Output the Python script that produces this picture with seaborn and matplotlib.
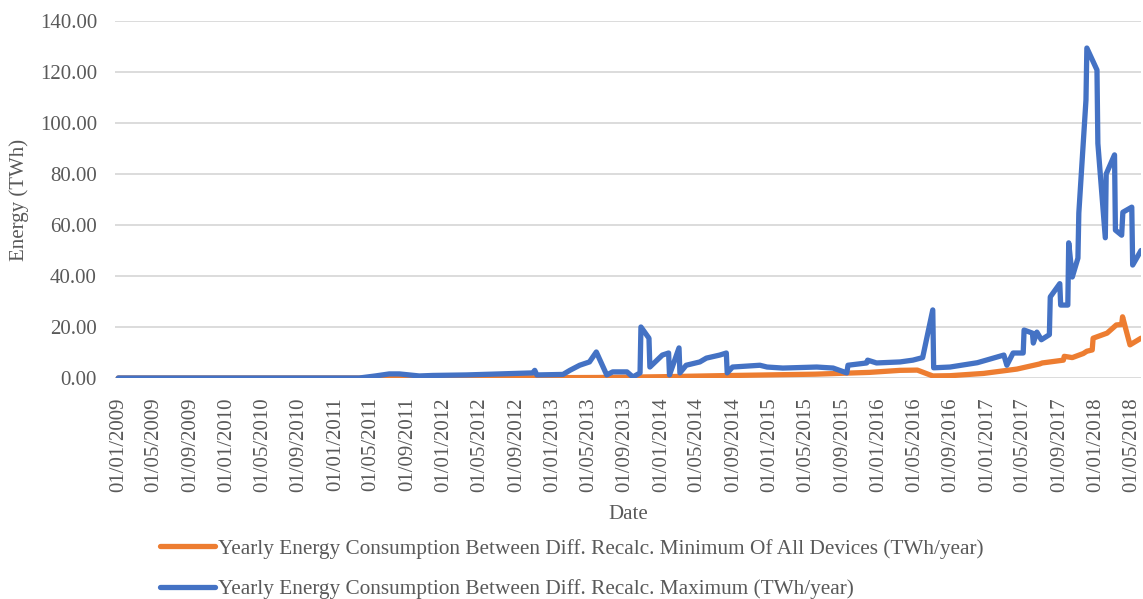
import pandas as pd
import matplotlib
matplotlib.use("Agg")
import matplotlib.pyplot as plt
import matplotlib.dates as mdates
import matplotlib.ticker as mticker
import seaborn as sns

# values (TWh/year)
max_dates = ["2009-01-01", "2011-03-22", "2011-05-15", "2011-07-01", "2011-08-04", "2011-10-10",
             "2011-11-24", "2012-03-16", "2012-07-06", "2012-10-25", "2012-11-01", "2012-11-08",
             "2013-02-04", "2013-02-27", "2013-04-01", "2013-05-04", "2013-05-27", "2013-07-01",
             "2013-07-21", "2013-09-07", "2013-09-27", "2013-10-21", "2013-10-24", "2013-11-20",
             "2013-11-23", "2014-01-04", "2014-01-25", "2014-01-28", "2014-03-01", "2014-03-04",
             "2014-03-25", "2014-05-10", "2014-06-01", "2014-07-16", "2014-08-07", "2014-08-10",
             "2014-08-28", "2014-11-28", "2014-12-22", "2015-02-13", "2015-06-07", "2015-08-01",
             "2015-09-16", "2015-09-20", "2015-11-22", "2015-11-25", "2015-12-25", "2016-03-13",
             "2016-04-25", "2016-05-28", "2016-07-01", "2016-07-04", "2016-08-28", "2016-11-28",
             "2017-02-25", "2017-03-07", "2017-03-28", "2017-05-01", "2017-05-04", "2017-06-01",
             "2017-06-04", "2017-06-16", "2017-07-01", "2017-07-28", "2017-07-31", "2017-09-01",
             "2017-09-04", "2017-09-28", "2017-10-01", "2017-10-13", "2017-11-01", "2017-11-04",
             "2017-11-28", "2017-12-01", "2018-01-04", "2018-01-07", "2018-02-01", "2018-02-04",
             "2018-03-04", "2018-03-07", "2018-03-28", "2018-04-01", "2018-05-01", "2018-05-04",
             "2018-06-01"]
max_values = [0.0, 0.0, 0.8, 1.6, 1.6, 0.8,
              1.0, 1.2, 1.6, 2.0, 3.0, 1.2,
              1.4, 3.0, 5.0, 6.3, 10.2, 1.2,
              2.4, 2.4, 0.4, 2.0, 20.0, 15.6,
              4.3, 9.0, 9.8, 1.2, 11.8, 2.0,
              5.0, 6.3, 7.8, 9.0, 9.8, 2.0,
              4.3, 5.0, 4.3, 3.9, 4.3, 3.9,
              2.0, 5.0, 5.9, 7.0, 5.9, 6.3,
              7.0, 8.0, 26.7, 4.0, 4.3, 6.0,
              9.0, 5.0, 9.8, 9.8, 18.8, 17.6,
              13.7, 18.0, 15.0, 17.0, 31.8, 37.0,
              28.6, 28.6, 53.0, 39.6, 47.0, 64.7,
              109.0, 129.4, 120.8, 92.0, 55.0, 80.0,
              87.5, 58.0, 56.0, 65.0, 67.0, 44.3,
              50.0]

min_dates = ["2009-01-01", "2012-01-01", "2013-06-01", "2014-01-01", "2014-09-01", "2015-06-01",
             "2015-12-01", "2016-03-13", "2016-05-10", "2016-07-01", "2016-08-28", "2016-12-19",
             "2017-04-10", "2017-06-25", "2017-07-04", "2017-09-13", "2017-09-16", "2017-10-13",
             "2017-11-19", "2017-12-01", "2017-12-19", "2017-12-22", "2018-02-07", "2018-03-10",
             "2018-03-28", "2018-03-31", "2018-04-25", "2018-06-01"]
min_values = [0.0, 0.0, 0.2, 0.5, 1.0, 1.5,
              2.2, 3.0, 3.1, 0.8, 0.9, 1.8,
              3.5, 5.5, 5.9, 7.0, 8.5, 8.0,
              9.6, 10.5, 11.0, 15.6, 17.6, 20.8,
              21.0, 24.0, 13.0, 15.6]

min_label = "Yearly Energy Consumption Between Diff. Recalc. Minimum Of All Devices (TWh/year)"
max_label = "Yearly Energy Consumption Between Diff. Recalc. Maximum (TWh/year)"

df_min = pd.DataFrame({"date": pd.to_datetime(min_dates), "energy": min_values})
df_max = pd.DataFrame({"date": pd.to_datetime(max_dates), "energy": max_values})

sns.set_style("white")
plt.rcParams["font.family"] = ["Liberation Serif", "DejaVu Serif"]
text_col = "#595959"

fig = plt.figure(figsize=(11.43, 5.99), dpi=100)
ax = fig.add_axes([115 / 1143, 1 - 378 / 599, (1141 - 115) / 1143, (378 - 21) / 599])

line_kw = dict(linewidth=3.8, solid_joinstyle="round", solid_capstyle="round")
sns.lineplot(data=df_min, x="date", y="energy", color="#ED7D31", label=min_label, ax=ax, **line_kw)
sns.lineplot(data=df_max, x="date", y="energy", color="#4472C4", label=max_label, ax=ax, **line_kw)

ax.set_ylim(0, 140)
ax.set_xlim(pd.Timestamp("2008-12-21"), pd.Timestamp("2018-06-01"))
ax.yaxis.set_major_locator(mticker.MultipleLocator(20))
ax.yaxis.set_major_formatter(mticker.FormatStrFormatter("%.2f"))
ax.xaxis.set_major_locator(mdates.MonthLocator(bymonth=[1, 5, 9]))
ax.xaxis.set_major_formatter(mdates.DateFormatter("%d/%m/%Y"))

ax.grid(axis="y", color="#D9D9D9", linewidth=1.3)
ax.set_axisbelow(True)
for s in ax.spines.values():
    s.set_visible(False)
ax.tick_params(axis="both", length=0, labelsize=15, colors=text_col)
ax.tick_params(axis="x", pad=14, labelrotation=90)
ax.tick_params(axis="y", pad=13)

ax.set_xlabel("Date", fontsize=15, color=text_col, labelpad=9)
ax.set_ylabel("Energy (TWh)", fontsize=15, color=text_col, labelpad=8)

ax.legend(loc="center left", bbox_to_anchor=(160 / 1143, 1 - 569 / 599),
          bbox_transform=fig.transFigure, frameon=False, fontsize=15.3,
          handlelength=2.6, handletextpad=0.15, labelspacing=0.95,
          borderpad=0, borderaxespad=0, labelcolor=text_col)

fig.savefig("out.png", dpi=100)
